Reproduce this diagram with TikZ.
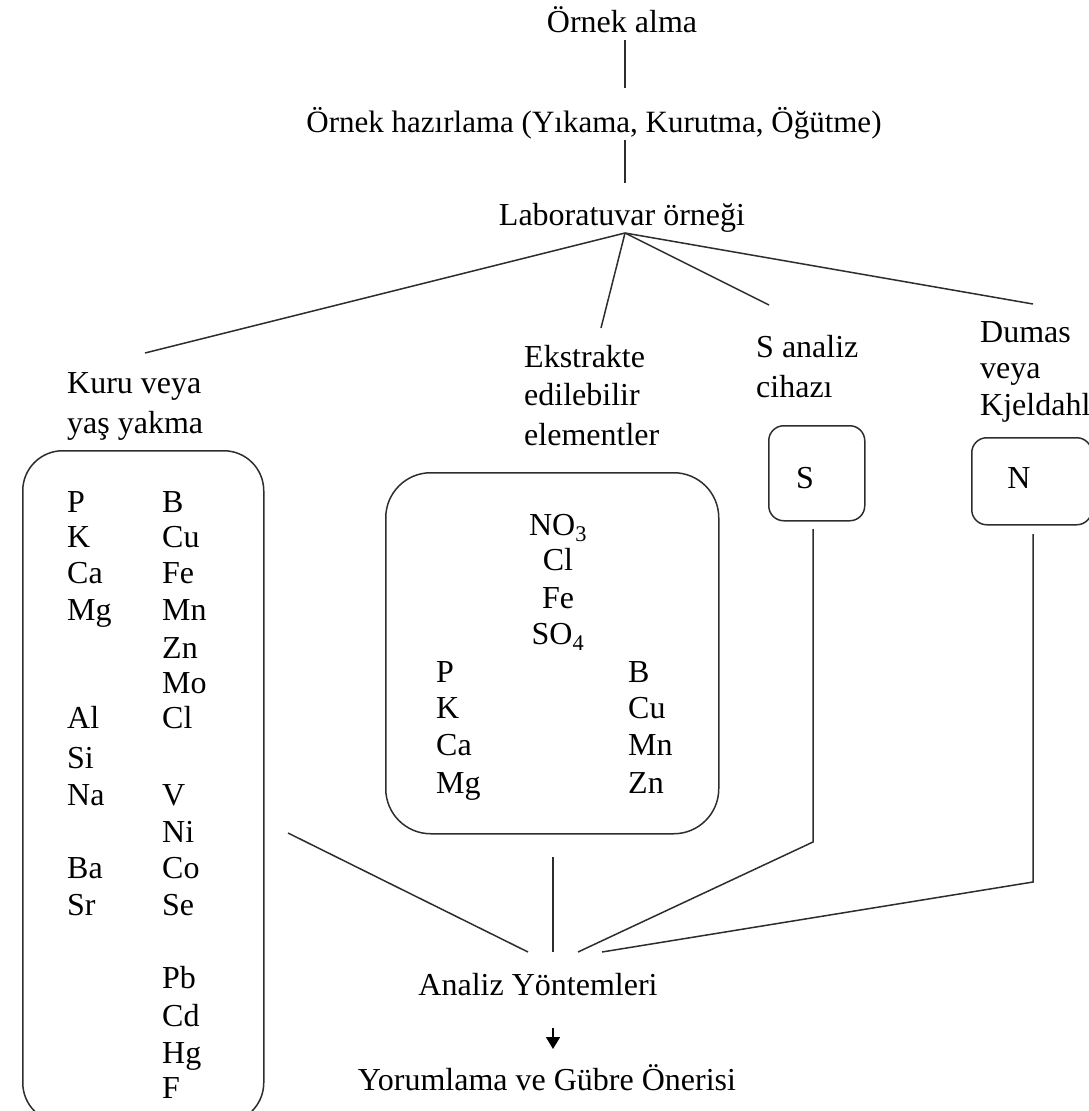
\documentclass[tikz,border=0pt]{standalone}
\usepackage{fontspec}
\setmainfont{Liberation Serif}
\usetikzlibrary{arrows.meta}
\definecolor{lncol}{RGB}{45,45,45}
\begin{document}
\begin{tikzpicture}[x=1pt,y=-1pt,
  txt/.style={inner sep=0pt, font=\fontsize{32}{38}\selectfont, anchor=base},
  ltxt/.style={txt, anchor=base west},
  ln/.style={draw=lncol, line width=1.5pt},
  boxst/.style={draw=lncol, line width=1.5pt, inner sep=0pt, anchor=north west}]
\useasboundingbox (0,0) rectangle (1089,1111);

% top chain
\node[txt] (alma) at (622,32) {Örnek alma};
\node[txt, font=\fontsize{31}{38}\selectfont] (hazir) at (594,132) {Örnek hazırlama (Yıkama, Kurutma, Öğütme)};
\node[txt] (lab) at (622,225) {Laboratuvar örneği};

% branch labels
\node[ltxt] (kuru1) at (67,393) {Kuru veya};
\node[ltxt] (kuru2) at (67,433) {yaş yakma};
\node[ltxt] (ek1) at (524,367) {Ekstrakte};
\node[ltxt] (ek2) at (524,405) {edilebilir};
\node[ltxt] (ek3) at (524,445) {elementler};
\node[ltxt] (sa1) at (756,357) {S analiz};
\node[ltxt] (sa2) at (756,397) {cihazı};
\node[ltxt] (du1) at (980,342) {Dumas};
\node[ltxt] (du2) at (980,378) {veya};
\node[ltxt] (du3) at (980,415) {Kjeldahl};

% boxes
\node[boxst, rounded corners=40pt, minimum width=241pt, minimum height=672pt] (drybox) at (22,450) {};
\node[boxst, rounded corners=45pt, minimum width=333pt, minimum height=361pt] (exbox) at (385,472) {};
\node[boxst, rounded corners=15pt, minimum width=96pt, minimum height=95pt] (sbox) at (768,425) {};
\node[boxst, rounded corners=15pt, minimum width=120pt, minimum height=87pt] (nbox) at (971,437) {};

% left box contents
\node[ltxt] (l1) at (67,512) {P};
\node[ltxt] (l2) at (67,547) {K};
\node[ltxt] (l3) at (67,583) {Ca};
\node[ltxt] (l4) at (67,620) {Mg};
\node[ltxt] (l5) at (67,728) {Al};
\node[ltxt] (l6) at (67,768) {Si};
\node[ltxt] (l7) at (67,805) {Na};
\node[ltxt] (l8) at (67,878) {Ba};
\node[ltxt] (l9) at (67,915) {Sr};

\node[ltxt] (r1) at (162,512) {B};
\node[ltxt] (r2) at (162,547) {Cu};
\node[ltxt] (r3) at (162,583) {Fe};
\node[ltxt] (r4) at (162,620) {Mn};
\node[ltxt] (r5) at (162,658) {Zn};
\node[ltxt] (r6) at (162,693) {Mo};
\node[ltxt] (r7) at (162,728) {Cl};
\node[ltxt] (r8) at (162,805) {V};
\node[ltxt] (r9) at (162,842) {Ni};
\node[ltxt] (r10) at (162,878) {Co};
\node[ltxt] (r11) at (162,915) {Se};
\node[ltxt] (r12) at (162,988) {Pb};
\node[ltxt] (r13) at (162,1026) {Cd};
\node[ltxt] (r14) at (162,1063) {Hg};
\node[ltxt] (r15) at (162,1098) {F};

% middle box contents
\node[txt] (m1) at (558,535) {NO\textsubscript{3}};
\node[txt] (m2) at (558,570) {Cl};
\node[txt] (m3) at (558,608) {Fe};
\node[txt] (m4) at (558,644) {SO\textsubscript{4}};
\node[ltxt] (mp1) at (436,682) {P};
\node[ltxt] (mp2) at (436,718) {K};
\node[ltxt] (mp3) at (436,755) {Ca};
\node[ltxt] (mp4) at (436,793) {Mg};
\node[ltxt] (mb1) at (628,682) {B};
\node[ltxt] (mb2) at (628,718) {Cu};
\node[ltxt] (mb3) at (628,755) {Mn};
\node[ltxt] (mb4) at (628,793) {Zn};

% small boxes
\node[txt] (stxt) at (805,488) {S};
\node[txt] (ntxt) at (1019,488) {N};

% bottom
\node[txt] (analiz) at (538,995) {Analiz Yöntemleri};
\node[txt] (yorum) at (547,1090) {Yorumlama ve Gübre Önerisi};

% connector coordinates
\coordinate (c1) at (625,40);
\coordinate (c2) at (625,88);
\coordinate (c3) at (625,140);
\coordinate (c4) at (625,183);
\coordinate (apex) at (625,233);
\coordinate (kuruEnd) at (145,353);
\coordinate (ekEnd) at (601,328);
\coordinate (sEnd) at (769,305);
\coordinate (dEnd) at (1033,304);
\coordinate (dryOut) at (288,833);
\coordinate (an1) at (528,952);
\coordinate (exOut) at (553,857);
\coordinate (an2) at (553,952);
\coordinate (sOut) at (813,529);
\coordinate (sBend) at (813,842);
\coordinate (an3) at (578,952);
\coordinate (nOut) at (1033,534);
\coordinate (nBend) at (1033,882);
\coordinate (an4) at (602,952);
\coordinate (arA) at (553,1028);
\coordinate (arB) at (553,1049);

\draw[ln] (c1) -- (c2);
\draw[ln] (c3) -- (c4);
\draw[ln] (apex) -- (kuruEnd);
\draw[ln] (apex) -- (ekEnd);
\draw[ln] (apex) -- (sEnd);
\draw[ln] (apex) -- (dEnd);
\draw[ln] (dryOut) -- (an1);
\draw[ln] (exOut) -- (an2);
\draw[ln] (sOut) -- (sBend) -- (an3);
\draw[ln] (nOut) -- (nBend) -- (an4);
\draw[draw=black, line width=1.5pt, -{Triangle[width=14pt,length=12pt]}] (arA) -- (arB);
\end{tikzpicture}
\end{document}
